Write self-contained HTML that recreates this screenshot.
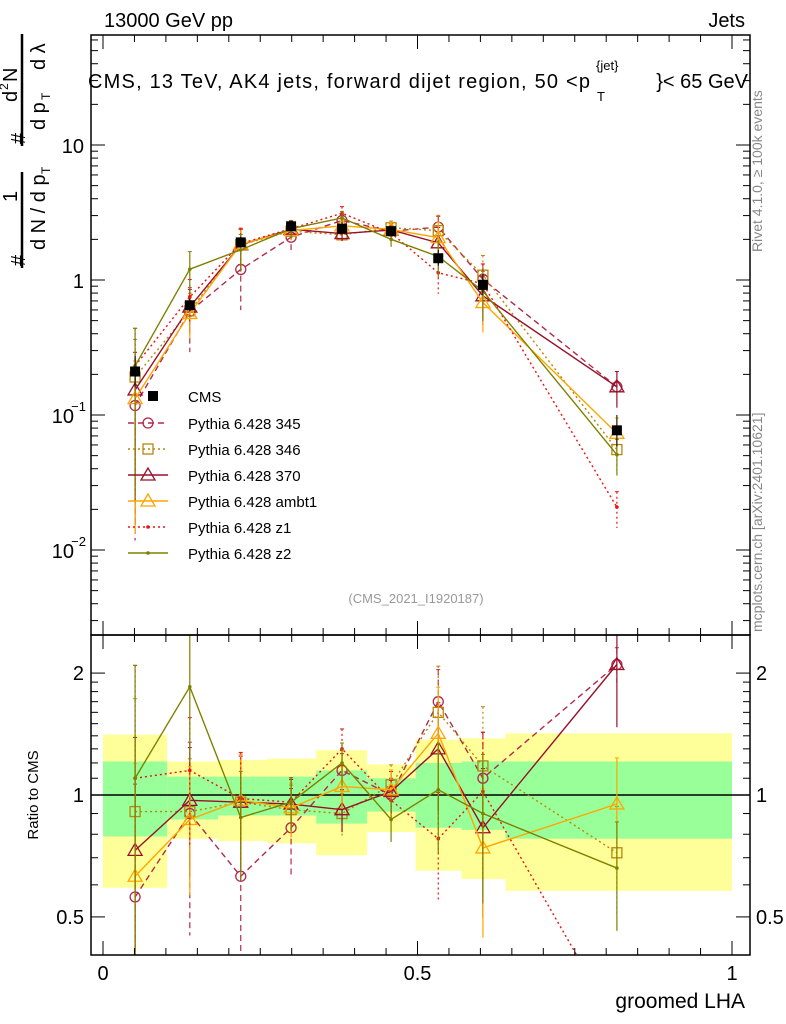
<!DOCTYPE html>
<html><head><meta charset="utf-8"><style>
html,body{margin:0;padding:0;background:#fff;overflow:hidden;width:786px;height:1024px}
svg{display:block}
svg text{font-family:"Liberation Sans","DejaVu Sans",sans-serif}
</style></head><body>
<svg id="c" width="786" height="1024" xmlns="http://www.w3.org/2000/svg"></svg>
<script>
const edges=[0,0.102,0.183,0.261,0.339,0.42,0.497,0.57,0.64,1.0];
const xs=[0.051,0.138,0.219,0.299,0.38,0.458,0.533,0.604,0.817];
const cms=[0.21,0.65,1.9,2.5,2.4,2.3,1.45,0.92,0.077];
const cmsErr=[0.3,0.12,0.1,0.1,0.12,0.08,0.15,0.2,0.3];
const yelUp=[1.41,1.21,1.22,1.23,1.29,1.19,1.37,1.38,1.42];
const yelDn=[0.59,0.78,0.77,0.76,0.71,0.81,0.65,0.62,0.58];
const grnUp=[1.21,1.11,1.11,1.11,1.15,1.1,1.2,1.21,1.21];
const grnDn=[0.79,0.87,0.89,0.89,0.85,0.91,0.83,0.82,0.78];
const r345=[0.56,0.9,0.63,0.83,1.15,1.0,1.7,1.1,2.1];
const r346=[0.91,0.91,0.96,0.92,0.9,1.06,1.6,1.18,0.72];
const r370=[0.73,0.97,0.96,0.95,0.92,1.02,1.3,0.83,2.1];
const rambt1=[0.63,0.87,0.97,0.93,1.05,1.03,1.42,0.74,0.95];
const rz1=[1.1,1.15,0.98,0.96,1.3,0.97,0.78,1.02,0.27];
const rz2=[1.1,1.85,0.88,0.96,1.2,0.87,1.03,0.9,0.66];
const e345=[0.9,0.5,0.5,0.25,0.1,0.1,0.2,0.3,0.1];
const eDef=[0.9,0.35,0.3,0.15,0.12,0.12,0.3,0.4,0.3];
const series=[
 {name:"Pythia 6.428 345",r:r345,e:e345,col:"#b22a4a",dash:"6,4",mk:"circle"},
 {name:"Pythia 6.428 346",r:r346,e:eDef,col:"#b8860b",dash:"2,3",mk:"square"},
 {name:"Pythia 6.428 370",r:r370,e:eDef,col:"#99102a",dash:"",mk:"tri"},
 {name:"Pythia 6.428 ambt1",r:rambt1,e:eDef,col:"#ffa500",dash:"",mk:"tri"},
 {name:"Pythia 6.428 z1",r:rz1,e:eDef,col:"#ee1111",dash:"2,3",mk:"dot"},
 {name:"Pythia 6.428 z2",r:rz2,e:eDef,col:"#808000",dash:"",mk:"dot"}];
const svg=document.getElementById('c');const NS="http://www.w3.org/2000/svg";
function el(t,a,p){const e=document.createElementNS(NS,t);for(const k in a)e.setAttribute(k,a[k]);(p||svg).appendChild(e);return e;}
function txt(s,a,p){const e=el('text',a,p);e.textContent=s;return e;}
const X=v=>103+v*629;
const Y=v=>280-Math.log10(v)*135;
const R=v=>795-Math.log10(v)*405;
const L=91,Rt=750,T=35,M=635,B=955;
const defs=el('defs',{});
const c1=el('clipPath',{id:'cm'},defs);el('rect',{x:L,y:T,width:Rt-L,height:M-T},c1);
const c2=el('clipPath',{id:'cr'},defs);el('rect',{x:L,y:M,width:Rt-L,height:B-M},c2);
const gb=el('g',{'clip-path':'url(#cr)'});

for(let i=0;i<9;i++){
 el('rect',{x:X(edges[i]),y:R(yelUp[i]),width:X(edges[i+1])-X(edges[i]),height:R(yelDn[i])-R(yelUp[i]),fill:'#ffff99'},gb);
}
for(let i=0;i<9;i++){
 el('rect',{x:X(edges[i]),y:R(grnUp[i]),width:X(edges[i+1])-X(edges[i]),height:R(grnDn[i])-R(grnUp[i]),fill:'#99ff99'},gb);
}
el('line',{x1:L,x2:Rt,y1:R(1),y2:R(1),stroke:'#000','stroke-width':1.5});
function marker(g,mk,x,y,col){
 if(mk=='circle')el('circle',{cx:x,cy:y,r:5,fill:'none',stroke:col,'stroke-width':1.3},g);
 else if(mk=='square')el('rect',{x:x-5,y:y-5,width:10,height:10,fill:'none',stroke:col,'stroke-width':1.3},g);
 else if(mk=='tri')el('polygon',{points:`${x},${y-7} ${x-7},${y+5} ${x+7},${y+5}`,fill:'none',stroke:col,'stroke-width':1.3},g);
 else el('circle',{cx:x,cy:y,r:1.8,fill:col},g);
}
function drawSeries(s,vals,yf,clip,errs){
 const g=el('g',{'clip-path':clip});
 
 
 let d='';
 vals.forEach((v,i)=>{const x=X(xs[i]),y=yf(v);d+=(i?'L':'M')+x+','+y;
  const lo=Math.max(v*(1-errs[i]),1e-4),hi=v*(1+errs[i]);
  el('line',{x1:x,x2:x,y1:yf(hi),y2:yf(lo),stroke:s.col,'stroke-width':1.2,'stroke-dasharray':s.dash},g);
  el('line',{x1:x-2,x2:x+2,y1:yf(hi),y2:yf(hi),stroke:s.col},g);
 });
 el('path',{d:d,fill:'none',stroke:s.col,'stroke-width':1.4,'stroke-dasharray':s.dash},g);
 vals.forEach((v,i)=>marker(g,s.mk,X(xs[i]),yf(v),s.col));
}
series.forEach(s=>{
 const mv=s.r.map((r,i)=>r*cms[i]);
 drawSeries(s,mv,Y,'url(#cm)',s.e);
 drawSeries(s,s.r,R,'url(#cr)',s.e);
});
const gd=el('g',{'clip-path':'url(#cm)'});

cms.forEach((v,i)=>{const x=X(xs[i]);
 el('line',{x1:x,x2:x,y1:Y(v*(1+cmsErr[i])),y2:Y(v*(1-cmsErr[i]*0.8)),stroke:'#000'},gd);
 el('rect',{x:x-5,y:Y(v)-5,width:10,height:10,fill:'#000'},gd);});
el('rect',{x:L,y:T,width:Rt-L,height:M-T,fill:'none',stroke:'#000','stroke-width':1.5});
el('rect',{x:L,y:M,width:Rt-L,height:B-M,fill:'none',stroke:'#000','stroke-width':1.5});
const ga=el('g',{});
for(let e=-3;e<=1;e++)for(let m=1;m<10;m++){const v=m*Math.pow(10,e);const y=Y(v);if(y<T||y>M)continue;
 const len=m==1?14:7;
 el('line',{x1:L,x2:L+len,y1:y,y2:y,stroke:'#000'},ga);el('line',{x1:Rt,x2:Rt-len,y1:y,y2:y,stroke:'#000'},ga);}
txt('10',{x:84,y:153,'font-size':20,'text-anchor':'end'},ga);
txt('1',{x:84,y:288,'font-size':20,'text-anchor':'end'},ga);
txt('10',{x:74,y:423,'font-size':20,'text-anchor':'end'},ga);txt('−1',{x:86,y:411,'font-size':13,'text-anchor':'end'},ga);
txt('10',{x:74,y:558,'font-size':20,'text-anchor':'end'},ga);txt('−2',{x:86,y:546,'font-size':13,'text-anchor':'end'},ga);
const gr=el('g',{});
[0.4,0.5,0.6,0.7,0.8,0.9,1,1.1,1.2,1.3,1.4,1.5,1.6,1.7,1.8,1.9,2].forEach(v=>{const y=R(v);if(y<M||y>B)return;
 const len=[0.5,1,2].includes(v)?14:7;
 el('line',{x1:L,x2:L+len,y1:y,y2:y,stroke:'#000'},gr);el('line',{x1:Rt,x2:Rt-len,y1:y,y2:y,stroke:'#000'},gr);});
[[2,'2'],[1,'1'],[0.5,'0.5']].forEach(([v,s])=>{txt(s,{x:84,y:R(v)+7,'font-size':20,'text-anchor':'end'},gr);txt(s,{x:756,y:R(v)+7,'font-size':20},gr);});
const gx=el('g',{});
for(let i=0;i<=20;i++){const v=i*0.05;const x=X(v);const len=i%10==0?14:7;
 el('line',{x1:x,x2:x,y1:B,y2:B-len,stroke:'#000'},gx);el('line',{x1:x,x2:x,y1:M,y2:M+len,stroke:'#000'},gx);el('line',{x1:x,x2:x,y1:M,y2:M-len,stroke:'#000'},gx);el('line',{x1:x,x2:x,y1:T,y2:T+len,stroke:'#000'},gx);}
[[0,'0'],[0.5,'0.5'],[1,'1']].forEach(([v,s])=>txt(s,{x:X(v),y:980,'font-size':20,'text-anchor':'middle'},gx));
txt('groomed LHA',{x:745,y:1008,'font-size':21,'text-anchor':'end',});
txt('13000 GeV pp',{x:104,y:27,'font-size':20,});
txt('Jets',{x:745,y:27,'font-size':20,'text-anchor':'end',});
txt('CMS, 13 TeV, AK4 jets, forward dijet region, 50 <p',{x:88,y:88,'font-size':20,'textLength':502,});
txt('{jet}',{x:596,y:70,'font-size':13});txt('T',{x:597,y:101,'font-size':13});
txt('}< 65 GeV',{x:748,y:88,'font-size':20,'text-anchor':'end'});
txt('(CMS_2021_I1920187)',{x:416,y:603,'font-size':13,fill:'#999','text-anchor':'middle',});
txt('Rivet 4.1.0, ≥ 100k events',{x:0,y:0,'font-size':14,fill:'#888',transform:'translate(762,252) rotate(-90)',});
txt('mcplots.cern.ch [arXiv:2401.10621]',{x:0,y:0,'font-size':14,fill:'#888',transform:'translate(762,632) rotate(-90)',});
txt('Ratio to CMS',{x:0,y:0,'font-size':15,'text-anchor':'middle',transform:'translate(38,795) rotate(-90)',});
const gyt=el('g',{transform:'translate(0,270) rotate(-90)'});
txt('#',{x:4,y:25,'font-size':20},gyt);
txt('1',{x:68,y:17,'font-size':20},gyt);
el('line',{x1:2,x2:98,y1:22,y2:22,stroke:'#000','stroke-width':2.5},gyt);
txt('d N / d p',{x:20,y:45,'font-size':20},gyt);txt('T',{x:96,y:50,'font-size':12},gyt);
txt('#',{x:126,y:25,'font-size':20},gyt);
el('line',{x1:124,x2:236,y1:22,y2:22,stroke:'#000','stroke-width':2.5},gyt);
txt('d',{x:168,y:17,'font-size':20},gyt);txt('2',{x:180,y:8,'font-size':12},gyt);txt('N',{x:188,y:17,'font-size':20},gyt);
txt('d p',{x:140,y:45,'font-size':20},gyt);txt('T',{x:170,y:50,'font-size':12},gyt);txt('d λ',{x:200,y:45,'font-size':20},gyt);
const gl=el('g',{});
const le=el('g',{},gl);
el('rect',{x:148,y:391,width:10,height:10,fill:'#000'},le);txt('CMS',{x:188,y:402,'font-size':15},le);
series.forEach((s,i)=>{const y=423+i*26;const g=el('g',{},gl);
 
 el('line',{x1:128,x2:168,y1:y,y2:y,stroke:s.col,'stroke-width':1.4,'stroke-dasharray':s.dash},g);
 marker(g,s.mk,148,y,s.col);txt(s.name,{x:188,y:y+6,'font-size':15},g);});
</script>
</body></html>
